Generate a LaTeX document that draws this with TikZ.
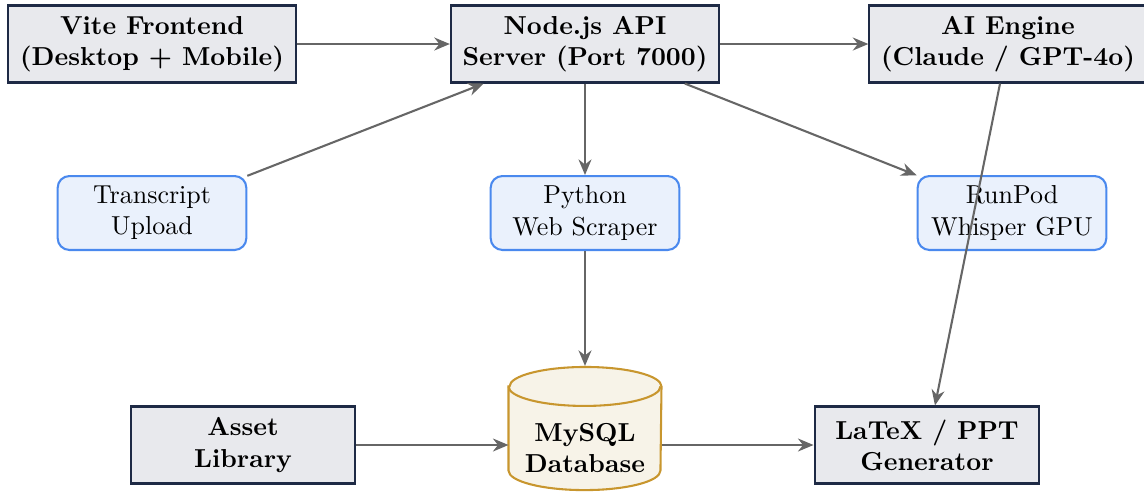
\documentclass[tikz,border=0pt]{standalone}
\usetikzlibrary{arrows.meta,backgrounds}
\definecolor{grayfill}{HTML}{E8E9ED}
\definecolor{grayline}{HTML}{1E2A45}
\definecolor{bluefill}{HTML}{EAF1FC}
\definecolor{blueline}{HTML}{4A89EE}
\definecolor{cylfill}{HTML}{F7F3E8}
\definecolor{cylline}{HTML}{C8962E}
\definecolor{arrowc}{HTML}{666666}
\tikzset{
  mainbox/.style={rectangle, draw=grayline, fill=grayfill, line width=0.8pt, font=\bfseries, align=center, inner xsep=4.5pt, minimum width=3cm+1.2pt, minimum height=1cm+1.2pt},
  subbox/.style={rectangle, rounded corners=4.5pt, draw=blueline, fill=bluefill, line width=0.8pt, align=center, minimum width=2.5cm+1.5pt, minimum height=1cm},
  dbface/.style={rectangle, inner sep=0pt, font=\bfseries, align=center, minimum width=58.5pt, minimum height=32pt},
  dbbody/.style={draw=cylline, fill=cylfill, line width=0.8pt},
  dbedge/.style={draw=cylline, line width=0.8pt},
  flow/.style={draw=arrowc, line width=0.8pt, -{Stealth[length=6pt,width=5pt]}}
}
\begin{document}
\begin{tikzpicture}[x=0.385pt,y=-0.385pt]
\useasboundingbox (0,0) rectangle (1144,491);
\node[mainbox] (vite) at (152,44) {Vite Frontend\\(Desktop + Mobile)};
\node[mainbox] (api) at (585,44) {Node.js API\\Server (Port 7000)};
\node[mainbox] (ai) at (1008,44) {AI Engine\\(Claude / GPT-4o)};
\node[subbox] (upload) at (152,213) {Transcript\\Upload};
\node[subbox] (scraper) at (585,213) {Python\\Web Scraper};
\node[subbox] (whisper) at (1012,213) {RunPod\\Whisper GPU};
\node[mainbox] (assets) at (243,445) {Asset\\Library};
\node[dbface] (db) at (585,448) {MySQL\\Database};
\node[mainbox] (gen) at (927,445) {LaTeX / PPT\\Generator};
\coordinate (dbtop) at ([yshift=15.4pt]db.north);
\begin{pgfonlayer}{background}
\draw[dbbody] ([yshift=7.5pt]db.north west) -- ([yshift=7.5pt]db.south west)
  arc[start angle=180, end angle=360, x radius=29.25pt, y radius=7.5pt]
  -- ([yshift=7.5pt]db.north east)
  arc[start angle=0, end angle=180, x radius=29.25pt, y radius=7.5pt] -- cycle;
\draw[dbedge] ([yshift=7.5pt]db.north west)
  arc[start angle=180, end angle=360, x radius=29.25pt, y radius=7.5pt];
\end{pgfonlayer}
\draw[flow] (vite) -- (api);
\draw[flow] (api) -- (ai);
\draw[flow] (upload) -- (api);
\draw[flow] (api) -- (scraper);
\draw[flow] (api) -- (whisper);
\draw[flow] (scraper) -- (dbtop);
\draw[flow] (ai) -- (gen);
\draw[flow] (assets) -- (assets -| db.west);
\draw[flow] (gen -| db.east) -- (gen);
\end{tikzpicture}
\end{document}
